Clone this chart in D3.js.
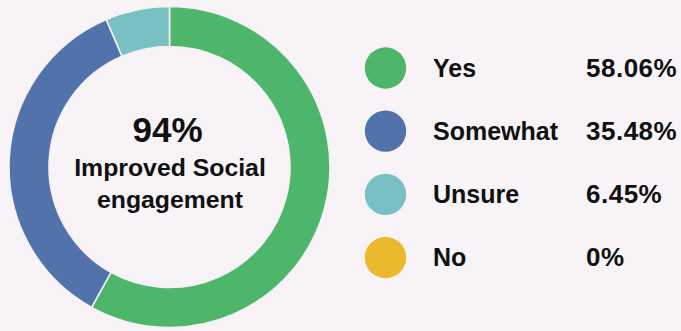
<!DOCTYPE html>
<html>
<head>
<meta charset="utf-8">
<script src="https://cdn.jsdelivr.net/npm/d3@7"></script>
<style>
  html, body { margin: 0; padding: 0; background: #f7f3f7; }
  svg { display: block; }
  text { font-family: "Liberation Sans", Arial, Helvetica, sans-serif; font-weight: bold; fill: #111; }
</style>
</head>
<body>
<svg id="chart" width="681" height="331"></svg>
<script>
const categories = ["Yes", "Somewhat", "Unsure", "No"];
const values = [58.06, 35.48, 6.45, 0];
const valueLabels = ["58.06%", "35.48%", "6.45%", "0%"];
const colors = ["#4db66a", "#5172aa", "#79c0c5", "#ecb82e"];
const centerTitle = "94%";
const centerLines = ["Improved Social", "engagement"];

const svg = d3.select("#chart");
const W = 681, H = 331;
svg.append("rect").attr("width", W).attr("height", H).attr("fill", "#f7f3f7");

const cx = 169.5, cy = 167, R = 160.5, r = 120.5;

const color = d3.scaleOrdinal().domain(categories).range(colors);
const pie = d3.pie().sort(null).value(d => d.value).startAngle(0).endAngle(2 * Math.PI);
const arc = d3.arc().innerRadius(r).outerRadius(R);
const data = categories.map((c, i) => ({ cat: c, value: values[i] }));

const g = svg.append("g").attr("transform", `translate(${cx},${cy})`);
g.selectAll("path")
  .data(pie(data).filter(d => d.data.value > 0))
  .join("path")
  .attr("d", arc)
  .attr("fill", d => color(d.data.cat))
  .attr("stroke", "#f4f1f4")
  .attr("stroke-width", 1.6);

// center text
g.append("text").attr("text-anchor", "middle").attr("x", -2).attr("y", -25.5)
  .style("font-size", "35px").text(centerTitle);
centerLines.forEach((t, i) => {
  g.append("text").attr("text-anchor", "middle").attr("x", 0.5).attr("y", 9 + i * 32)
    .style("font-size", "24.8px").text(t);
});

// legend
const y = d3.scalePoint().domain(categories).range([68, 257.5]);
const leg = svg.append("g");
const rows = leg.selectAll("g").data(categories).join("g")
  .attr("transform", d => `translate(0,${y(d)})`);
rows.append("circle").attr("cx", 385.5).attr("cy", 0).attr("r", 20.7)
  .attr("fill", d => color(d));
rows.append("text").attr("x", 433).attr("y", 8.7).style("font-size", "25px")
  .text(d => d);
rows.append("text").attr("x", 586).attr("y", 8.7).style("font-size", "26px")
  .style("letter-spacing", "0.5px")
  .text((d, i) => valueLabels[i]);
</script>
</body>
</html>
